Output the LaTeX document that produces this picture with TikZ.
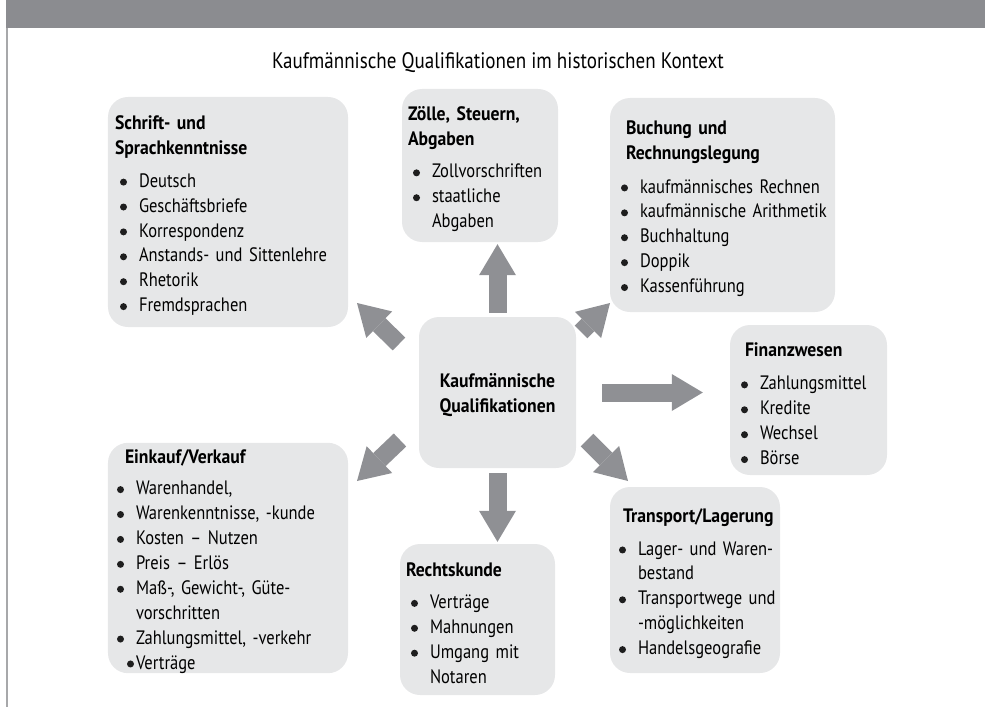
\documentclass[tikz,border=0pt]{standalone}
\usepackage{fontspec}
\setmainfont{PT Sans}[FakeStretch=0.85]
\newfontfamily\hdfont{PT Sans}[FakeStretch=0.91]
\usetikzlibrary{arrows.meta}
\definecolor{hdrgray}{HTML}{8B8C90}
\definecolor{arrgray}{HTML}{8F9094}
\definecolor{boxgray}{HTML}{E6E7E8}
\definecolor{linegray}{HTML}{A7A8AA}
\definecolor{dotcol}{HTML}{1E1E1E}
\newcommand\bdot{\raisebox{1.6bp}{\tikz\fill[dotcol] (0,0) circle (3.5bp);}}
\newcommand\bi[1]{\mbox{\makebox[19bp][l]{\bdot}#1}}
\newcommand\bcont[1]{\mbox{\hspace*{19bp}#1}}
\newcommand\hd[2]{\mbox{\hspace*{#1}{\hdfont\bfseries\fontsize{19.5}{25}\selectfont #2}}}
\newcommand\hdf[2]{\mbox{\rule{0pt}{21bp}\hspace*{#1}{\hdfont\bfseries\fontsize{19.5}{25}\selectfont #2}}}
\begin{document}
\begin{tikzpicture}[x=1bp,y=-1bp,
  box/.style={fill=boxgray, rounded corners=20bp, inner ysep=0bp, align=left,
    font=\fontsize{19.5}{25}\selectfont},
  bigarrow/.style={draw=arrgray, line width=18bp,
    -{Triangle[width=37bp,length=31bp,line width=0bp]}}]
\useasboundingbox (0,0) rectangle (985,707);
\fill[hdrgray] (6,0) rectangle (985,28);
\draw[linegray, line width=1.6bp] (6.8,28) -- (6.8,707);

\node[font=\fontsize{22.5}{24}\selectfont] (title) at (498,63)
  {Kaufmännische Qualifikationen im historischen Kontext};

% Schrift- und Sprachkenntnisse
\node[box, minimum width=240bp, minimum height=230bp, inner xsep=12bp, text width=216bp] (S) at (228,212)
 {\hdf{-5bp}{Schrift- und}\\ \hd{-5bp}{Sprachkenntnisse}\\[8bp]
  \bi{Deutsch}\\ \bi{Geschäftsbriefe}\\ \bi{Korrespondenz}\\
  \bi{Anstands- und Sittenlehre}\\ \bi{Rhetorik}\\ \bi{Fremdsprachen}};

% Zoelle
\node[box, minimum width=156bp, minimum height=153bp, inner xsep=11bp, text width=134bp] (Z) at (480,165.5)
 {\hdf{-5bp}{Zölle, Steuern,}\\ \hd{-5bp}{Abgaben}\\[8bp]
  \bi{Zollvorschriften}\\ \bi{staatliche}\\ \bcont{Abgaben}};

% Buchung
\node[box, minimum width=225bp, minimum height=214bp, inner xsep=11bp, text width=203bp] (B) at (722.5,205)
 {\hdf{5bp}{Buchung und}\\ \hd{5bp}{Rechnungslegung}\\[9bp]
  \bi{kaufmännisches Rechnen}\\ \bi{kaufmännische Arithmetik}\\ \bi{Buchhaltung}\\
  \bi{Doppik}\\ \bi{Kassenführung}};

% Center
\node[box, align=center, minimum width=157bp, minimum height=151bp,
      font=\hdfont\bfseries\fontsize{19.5}{25}\selectfont] (C) at (497.5,392.5)
 {\rule{0pt}{19bp}Kaufmännische\\ Qualifikationen};

% Finanzwesen
\node[box, minimum width=157bp, minimum height=150bp, inner xsep=11bp, text width=135bp] (F) at (808.5,400)
 {\hdf{4bp}{Finanzwesen}\\[9bp]
  \bi{Zahlungsmittel}\\ \bi{Kredite}\\ \bi{Wechsel}\\ \bi{Börse}};

% Einkauf/Verkauf
\node[box, minimum width=240bp, minimum height=230bp, inner xsep=9bp, text width=222bp] (E) at (228,558)
 {\hdf{8bp}{Einkauf/Verkauf}\\[6bp]
  \bi{Warenhandel,}\\ \bi{Warenkenntnisse, -kunde}\\ \bi{Kosten – Nutzen}\\
  \bi{Preis – Erlös}\\ \bi{Maß-, Gewicht-, Güte-}\\ \bcont{vorschritten}\\
  \bi{Zahlungsmittel, -verkehr}\\
  \mbox{\makebox[19bp][l]{\hspace*{10bp}\bdot}Verträge}};

% Rechtskunde
\node[box, minimum width=155bp, minimum height=151bp, inner xsep=11bp, text width=133bp] (R) at (477.5,619.5)
 {\hdf{-5bp}{Rechtskunde}\\[7bp]
  \bi{Verträge}\\ \bi{Mahnungen}\\ \bi{Umgang mit}\\ \bcont{Notaren}};

% Transport/Lagerung
\node[box, minimum width=170bp, minimum height=186bp, inner xsep=9bp, text width=152bp] (T) at (695,580)
 {\hdf{4bp}{Transport/Lagerung}\\[8bp]
  \bi{Lager- und Waren-}\\ \bcont{bestand}\\ \bi{Transportwege und}\\
  \bcont{-möglichkeiten}\\ \bi{Handelsgeografie}};

% arrows
\coordinate (ulA) at (399,344); \coordinate (ulB) at (357,303);
\coordinate (urA) at (581,332); \coordinate (urB) at (610,303);
\coordinate (llA) at (400,440); \coordinate (llB) at (357,481);
\coordinate (lrA) at (587,440); \coordinate (lrB) at (628,481);
\draw[bigarrow, shorten <=4bp, shorten >=2bp] (C.north) -- (C.north |- Z.south);
\draw[bigarrow, shorten <=26bp, shorten >=27bp] (C.east) -- (C.east -| F.west);
\draw[bigarrow, shorten <=5bp, shorten >=2bp] (C.south) -- (C.south |- R.north);
\draw[bigarrow] (ulA) -- (ulB);
\draw[bigarrow] (urA) -- (urB);
\draw[bigarrow] (llA) -- (llB);
\draw[bigarrow] (lrA) -- (lrB);
\end{tikzpicture}
\end{document}
